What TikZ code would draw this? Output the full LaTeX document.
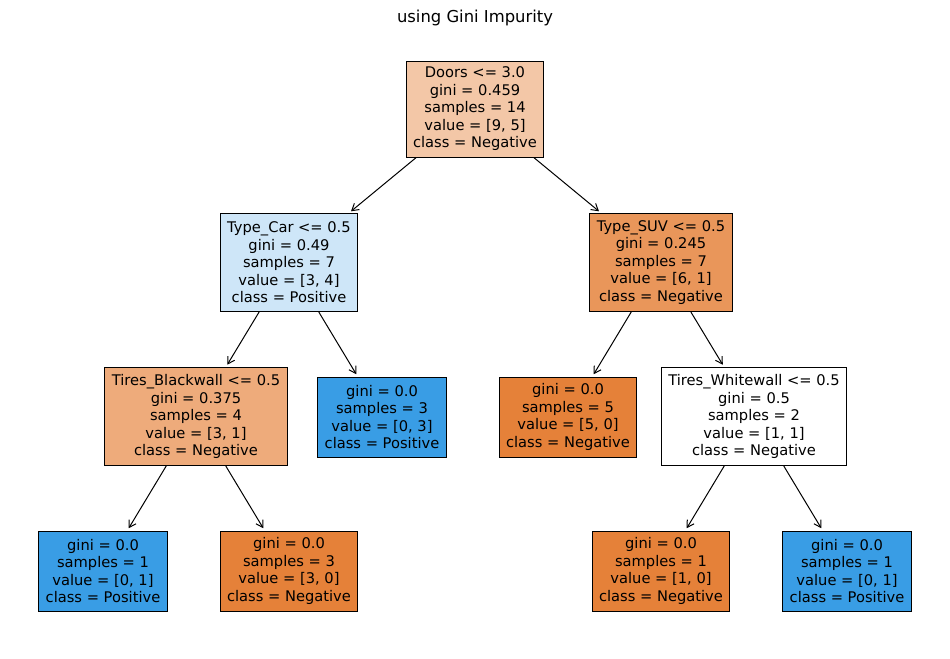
\documentclass[tikz,border=0pt]{standalone}
\usepackage{fontspec}
\setmainfont{DejaVu Sans}
\usetikzlibrary{arrows.meta}
\definecolor{negfull}{HTML}{E58139}
\definecolor{posfull}{HTML}{399DE5}
\definecolor{negroot}{HTML}{F3C7A7}
\definecolor{negsuv}{HTML}{E9965A}
\definecolor{negblack}{HTML}{EEAB7B}
\definecolor{poscar}{HTML}{CEE6F8}
\tikzstyle{split}=[rectangle, draw, line width=0.75pt, inner xsep=5.25pt, align=center,
  minimum height=73.5pt, font=\fontsize{11}{13.1}\selectfont]
\tikzstyle{leaf}=[split, minimum height=60pt]
\newcommand{\splitnode}{\node[split]}
\newcommand{\leafnode}{\node[leaf]}

\begin{document}
\begin{tikzpicture}[x=0.75pt, y=-0.75pt
    ,every edge/.style={draw, line width=0.75pt, shorten >=2pt,
        -{Straight Barb[length=5pt,width=6pt]}}
]
\useasboundingbox (0,0) rectangle (950,658);
\node (title) at (475,18) {\fontsize{12.3}{14}\selectfont using Gini Impurity};
\splitnode[fill=negroot, minimum height=72pt] (doors) at (475,109) {Doors <= 3.0\\gini = 0.459\\samples = 14\\value = [9, 5]\\class = Negative};
\splitnode[fill=poscar] (car) at (289,262.5) {Type\_Car <= 0.5\\gini = 0.49\\samples = 7\\value = [3, 4]\\class = Positive};
\splitnode[fill=negsuv] (suv) at (661,262.5) {Type\_SUV <= 0.5\\gini = 0.245\\samples = 7\\value = [6, 1]\\class = Negative};
\splitnode[fill=negblack] (black) at (196,416.5) {Tires\_Blackwall <= 0.5\\gini = 0.375\\samples = 4\\value = [3, 1]\\class = Negative};
\leafnode[fill=posfull] (carleaf) at (382,417) {gini = 0.0\\samples = 3\\value = [0, 3]\\class = Positive};
\leafnode[fill=negfull] (suvleaf) at (568,417) {gini = 0.0\\samples = 5\\value = [5, 0]\\class = Negative};
\splitnode[fill=white] (white) at (754,416.5) {Tires\_Whitewall <= 0.5\\gini = 0.5\\samples = 2\\value = [1, 1]\\class = Negative};
\leafnode[fill=posfull] (bleft) at (103,571) {gini = 0.0\\samples = 1\\value = [0, 1]\\class = Positive};
\leafnode[fill=negfull] (bright) at (289,571) {gini = 0.0\\samples = 3\\value = [3, 0]\\class = Negative};
\leafnode[fill=negfull] (wleft) at (661,571) {gini = 0.0\\samples = 1\\value = [1, 0]\\class = Negative};
\leafnode[fill=posfull] (wright) at (847,571) {gini = 0.0\\samples = 1\\value = [0, 1]\\class = Positive};
\path
(doors) edge (car)
        edge (suv)
(car) edge (black)
      edge (carleaf)
(suv) edge (suvleaf)
      edge (white)
(black) edge (bleft)
        edge (bright)
(white) edge (wleft)
        edge (wright)
;
\end{tikzpicture}
\end{document}
